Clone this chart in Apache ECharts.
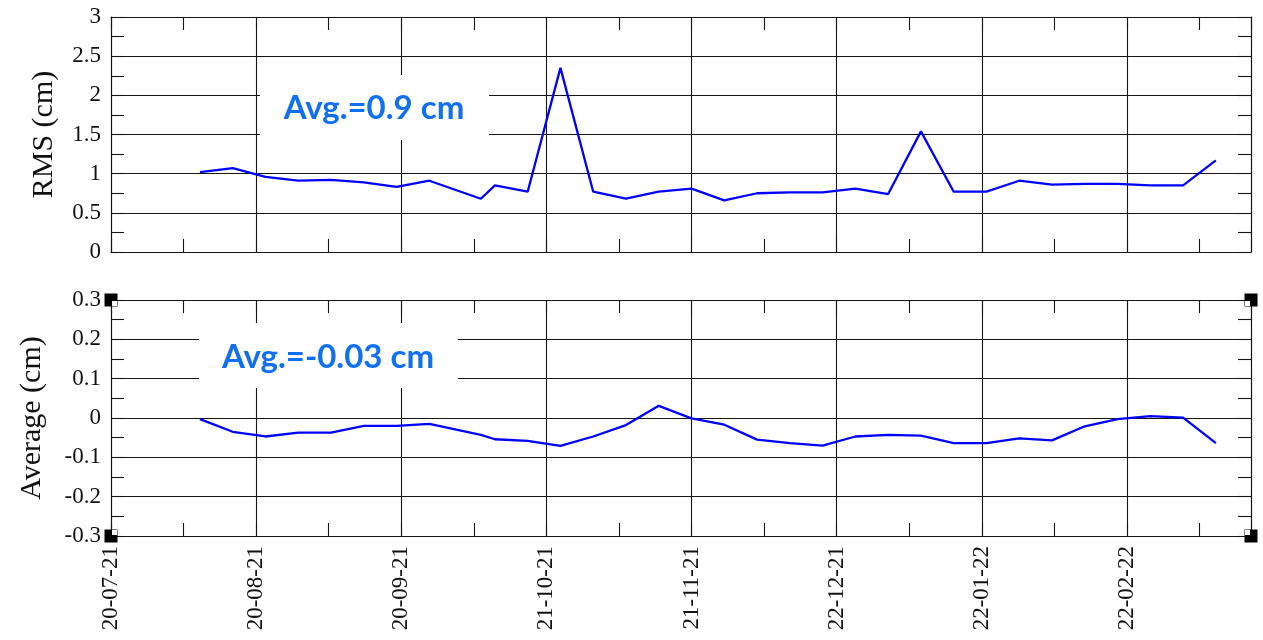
<!DOCTYPE html>
<html>
<head>
<meta charset="utf-8">
<script src="https://cdn.jsdelivr.net/npm/echarts@6/dist/echarts.min.js"></script>
<style>
  html, body { margin: 0; padding: 0; background: #fff; }
  #chart { width: 1263px; height: 640px; }
</style>
</head>
<body>
<div id="chart"></div>
<script>
// Daily solution statistics: RMS and mean of the residuals (cm)
const START_DATE = '2021-07-20';
const dates = [
  '2021-08-08', '2021-08-15', '2021-08-22', '2021-08-29', '2021-09-05', '2021-09-12',
  '2021-09-19', '2021-09-26', '2021-10-07', '2021-10-10', '2021-10-17', '2021-10-24',
  '2021-10-31', '2021-11-07', '2021-11-14', '2021-11-21', '2021-11-28', '2021-12-05',
  '2021-12-12', '2021-12-19', '2021-12-26', '2022-01-02', '2022-01-09', '2022-01-16',
  '2022-01-23', '2022-01-30', '2022-02-06', '2022-02-13', '2022-02-20', '2022-02-27',
  '2022-03-06', '2022-03-13'
];
const rmsValues = [
  1.02, 1.07, 0.96, 0.91, 0.92, 0.89,
  0.83, 0.91, 0.68, 0.85, 0.77, 2.35,
  0.77, 0.68, 0.77, 0.81, 0.66, 0.75,
  0.76, 0.76, 0.81, 0.74, 1.54, 0.77,
  0.77, 0.91, 0.86, 0.87, 0.87, 0.85,
  0.85, 1.17
];
const avgValues = [
  -0.003, -0.035, -0.047, -0.037, -0.037, -0.020,
  -0.020, -0.015, -0.043, -0.054, -0.058, -0.071,
  -0.047, -0.018, 0.031, -0.001, -0.017, -0.055,
  -0.064, -0.070, -0.047, -0.043, -0.045, -0.064,
  -0.064, -0.052, -0.057, -0.021, -0.003, 0.005,
  0.001, -0.064
];
const tickLabels = ['20-07-21', '20-08-21', '20-09-21', '21-10-21', '21-11-21', '22-12-21', '22-01-22', '22-02-22'];
const rmsNote = 'Avg.=0.9 cm';
const avgNote = 'Avg.=-0.03 cm';

// x axis runs in days since START_DATE, labelled every 31 days
const DAY_MS = 86400000;
const toDay = d => (Date.parse(d + 'T00:00:00Z') - Date.parse(START_DATE + 'T00:00:00Z')) / DAY_MS;
const X_MIN = 0, X_MAX = 243.5, X_STEP = 31;
const RMS_MIN = 0, RMS_MAX = 3, AVG_MIN = -0.3, AVG_MAX = 0.3;

const rmsData = dates.map((d, i) => [toDay(d), rmsValues[i]]);
const avgData = dates.map((d, i) => [toDay(d), avgValues[i]]);

const INK = '#151515';
const SERIF = 'Liberation Serif';
const lineStyle = { color: INK, width: 1.1 };
const edgeLine = { show: true, onZero: false, lineStyle };

function xAxesFor(gridIndex, withLabels) {
  return [
    { // bottom edge: ticks every half step, labels on whole steps
      gridIndex, type: 'value', position: 'bottom', min: X_MIN, max: X_MAX, interval: X_STEP / 2,
      axisLine: edgeLine,
      axisTick: { show: true, inside: true, length: 13, lineStyle },
      axisLabel: withLabels ? {
        show: true, rotate: 90, margin: 10, fontSize: 23, fontFamily: SERIF, color: '#111',
        formatter: v => {
          const k = v / X_STEP;
          return Math.abs(k - Math.round(k)) < 1e-6 ? (tickLabels[Math.round(k)] || '') : '';
        }
      } : { show: false },
      splitLine: { show: false }
    },
    { // top edge
      gridIndex, type: 'value', position: 'top', min: X_MIN, max: X_MAX, interval: X_STEP / 2,
      axisLine: edgeLine,
      axisTick: { show: true, inside: true, length: 13, lineStyle },
      axisLabel: { show: false },
      splitLine: { show: false }
    },
    { // vertical grid lines on whole steps
      gridIndex, type: 'value', position: 'bottom', min: X_MIN, max: X_MAX, interval: X_STEP,
      axisLine: { show: false, onZero: false }, axisTick: { show: false }, axisLabel: { show: false },
      splitLine: { show: true, lineStyle }
    }
  ];
}

function yAxesFor(gridIndex, min, max, interval, name, nameGap) {
  return [
    {
      gridIndex, type: 'value', position: 'left', min, max, interval,
      name, nameLocation: 'middle', nameRotate: 90, nameGap,
      nameTextStyle: { fontSize: 30, fontFamily: SERIF, color: '#111' },
      axisLine: edgeLine,
      axisTick: { show: true, inside: true, length: 13, lineStyle },
      minorTick: { show: true, splitNumber: 2, length: 13, lineStyle },
      axisLabel: { show: true, fontSize: 23, fontFamily: SERIF, color: '#111', margin: 10 },
      splitLine: { show: true, lineStyle }
    },
    {
      gridIndex, type: 'value', position: 'right', min, max, interval,
      axisLine: edgeLine,
      axisTick: { show: true, inside: true, length: 13, lineStyle },
      minorTick: { show: true, splitNumber: 2, length: 13, lineStyle },
      axisLabel: { show: false },
      splitLine: { show: false }
    }
  ];
}

// Selection-handle squares on the corners of the lower panel
const corners = [[X_MIN, AVG_MAX], [X_MIN, AVG_MIN], [X_MAX, AVG_MAX], [X_MAX, AVG_MIN]];
const notchOffsets = [[3.5, 3.5], [3.5, -3.5], [-3.5, 3.5], [-3.5, -3.5]];

const chart = echarts.init(document.getElementById('chart'), null, { renderer: 'canvas' });
chart.setOption({
  backgroundColor: '#fff',
  animation: false,
  grid: [
    { left: 111, right: 12, top: 17, height: 235, outerBoundsMode: 'none' },
    { left: 111, right: 12, top: 300, height: 236, outerBoundsMode: 'none' }
  ],
  xAxis: [...xAxesFor(0, false), ...xAxesFor(1, true)],
  yAxis: [
    ...yAxesFor(0, RMS_MIN, RMS_MAX, 0.5, 'RMS (cm)', 52),
    ...yAxesFor(1, AVG_MIN, AVG_MAX, 0.1, 'Average (cm)', 64)
  ],
  series: [
    {
      name: 'RMS', type: 'line', xAxisIndex: 0, yAxisIndex: 0, data: rmsData,
      symbol: 'none', lineStyle: { color: '#0000ff', width: 2.3 }, z: 3
    },
    {
      name: 'Average', type: 'line', xAxisIndex: 3, yAxisIndex: 2, data: avgData,
      symbol: 'none', lineStyle: { color: '#0000ff', width: 2.3 }, z: 3
    },
    {
      type: 'scatter', xAxisIndex: 3, yAxisIndex: 2, data: corners, clip: false, silent: true,
      symbol: 'rect', symbolSize: 13, itemStyle: { color: '#000', opacity: 1 }, z: 20
    },
    {
      type: 'scatter', xAxisIndex: 3, yAxisIndex: 2, clip: false, silent: true,
      data: corners.map((c, i) => ({ value: c, symbolOffset: notchOffsets[i] })),
      symbol: 'rect', symbolSize: 5, itemStyle: { color: '#fff', opacity: 1 }, z: 21
    }
  ],
  graphic: [
    { type: 'rect', shape: { x: 260, y: 75, width: 229, height: 65 }, style: { fill: '#fff' }, z: 50 },
    {
      type: 'text', x: 374, y: 108, z: 51,
      style: { text: rmsNote, font: 'bold 33px Lato, "Open Sans", sans-serif', fill: '#1170f0', align: 'center', verticalAlign: 'middle' }
    },
    { type: 'rect', shape: { x: 199, y: 323, width: 259, height: 65 }, style: { fill: '#fff' }, z: 50 },
    {
      type: 'text', x: 328, y: 357, z: 51,
      style: { text: avgNote, font: 'bold 33px Lato, "Open Sans", sans-serif', fill: '#1170f0', align: 'center', verticalAlign: 'middle' }
    }
  ]
});
</script>
</body>
</html>
